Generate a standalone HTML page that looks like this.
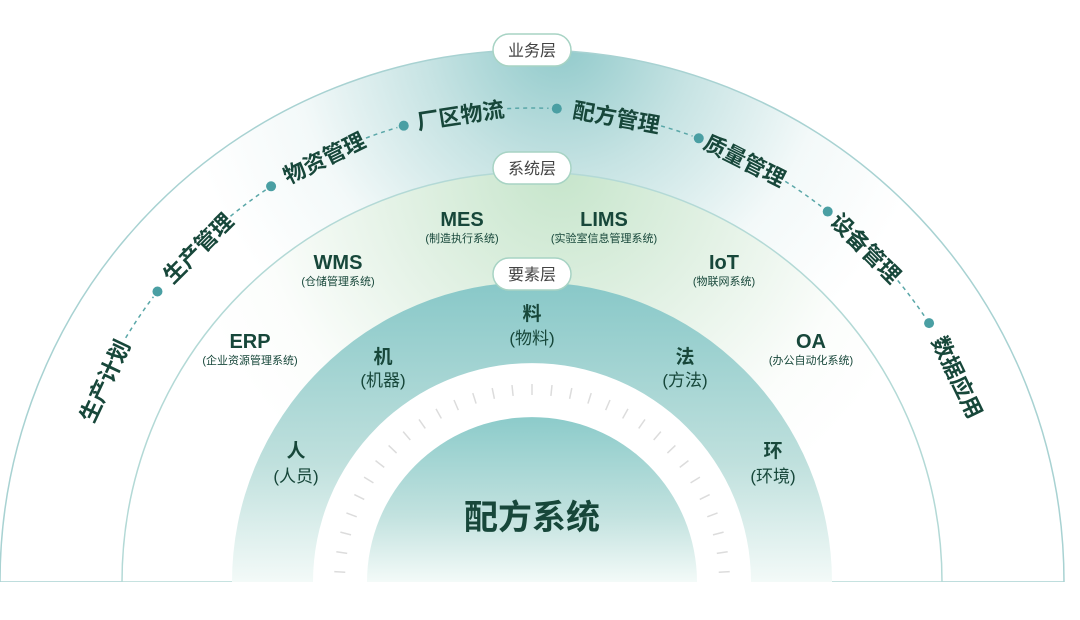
<!DOCTYPE html>
<html><head><meta charset="utf-8"><style>
html,body{margin:0;padding:0;background:#fff;}
svg{display:block;font-family:"Liberation Sans","Noto Sans CJK SC",sans-serif;}
</style></head><body>
<svg width="1080" height="620" viewBox="0 0 1080 620" xmlns="http://www.w3.org/2000/svg">
<defs>
<radialGradient id="gOut" cx="560" cy="40" r="380" gradientUnits="userSpaceOnUse">
<stop offset="0" stop-color="#8fc9ca"/><stop offset="0.35" stop-color="#c6e3e3"/><stop offset="0.7" stop-color="#f3f9f9"/><stop offset="1" stop-color="#ffffff"/></radialGradient>
<radialGradient id="gSys" cx="560" cy="170" r="380" gradientUnits="userSpaceOnUse">
<stop offset="0" stop-color="#c6e5cb"/><stop offset="0.45" stop-color="#e4f2e6"/><stop offset="0.8" stop-color="#fbfdfb"/><stop offset="1" stop-color="#ffffff"/></radialGradient>
<linearGradient id="gEl" x1="0" y1="282" x2="0" y2="582" gradientUnits="userSpaceOnUse">
<stop offset="0" stop-color="#88c8c8"/><stop offset="0.6" stop-color="#bfe0dd"/><stop offset="1" stop-color="#f3faf8"/></linearGradient>
<linearGradient id="gCore" x1="0" y1="417" x2="0" y2="582" gradientUnits="userSpaceOnUse">
<stop offset="0" stop-color="#8ccbca"/><stop offset="0.6" stop-color="#c2e2df"/><stop offset="1" stop-color="#f3faf8"/></linearGradient>
</defs>
<path d="M0,582 A532,532 0 0 1 1064,582 Z" fill="url(#gOut)" stroke="#a8d2d2" stroke-width="1.5"/>
<path d="M122,582 A410,410 0 0 1 942,582 Z" fill="url(#gSys)" stroke="#b3d9d6" stroke-width="1.5"/>
<path d="M232,582 A300,300 0 0 1 832,582 Z" fill="url(#gEl)"/>
<path d="M313,582 A219,219 0 0 1 751,582 Z" fill="#ffffff"/>
<path d="M367,582 A165,165 0 0 1 697,582 Z" fill="url(#gCore)"/>
<rect x="0" y="582" width="1080" height="38" fill="#fff"/>
<g stroke="#dcdcdc" stroke-width="1.5" id="ticks"></g>
<g fill="none" stroke="#5aa7a8" stroke-width="1.5" stroke-dasharray="4 4" id="dash"></g>
<g fill="#4a9fa3" id="dots"></g>
<g font-weight="bold" font-size="22" fill="#17473a" text-anchor="middle" dominant-baseline="middle" id="biz"></g>
<g text-anchor="middle" fill="#17473a">
<text x="462" y="226" font-size="20" font-weight="bold">MES</text><text x="462" y="242" font-size="11">(制造执行系统)</text>
<text x="604" y="226" font-size="20" font-weight="bold">LIMS</text><text x="604" y="242" font-size="11">(实验室信息管理系统)</text>
<text x="338" y="269" font-size="20" font-weight="bold">WMS</text><text x="338" y="285" font-size="11">(仓储管理系统)</text>
<text x="724" y="269" font-size="20" font-weight="bold">IoT</text><text x="724" y="285" font-size="11">(物联网系统)</text>
<text x="250" y="348" font-size="20" font-weight="bold">ERP</text><text x="250" y="364" font-size="11">(企业资源管理系统)</text>
<text x="811" y="348" font-size="20" font-weight="bold">OA</text><text x="811" y="364" font-size="11">(办公自动化系统)</text>
<text x="532" y="320" font-size="19" font-weight="bold">料</text><text x="532" y="344" font-size="17">(物料)</text>
<text x="383" y="363" font-size="19" font-weight="bold">机</text><text x="383" y="386" font-size="17">(机器)</text>
<text x="685" y="363" font-size="19" font-weight="bold">法</text><text x="685" y="386" font-size="17">(方法)</text>
<text x="296" y="457" font-size="19" font-weight="bold">人</text><text x="296" y="482" font-size="17">(人员)</text>
<text x="773" y="457" font-size="19" font-weight="bold">环</text><text x="773" y="482" font-size="17">(环境)</text>
<text x="532" y="529" font-size="34" font-weight="bold">配方系统</text>
</g>
<g font-size="16" fill="#444" text-anchor="middle">
<rect x="493" y="34" width="78" height="32" rx="16" fill="#fff" stroke="#a7d3c4" stroke-width="1.5"/><text x="532" y="56">业务层</text>
<rect x="493" y="152" width="78" height="32" rx="16" fill="#fff" stroke="#a7d3c4" stroke-width="1.5"/><text x="532" y="174">系统层</text>
<rect x="493" y="258" width="78" height="32" rx="16" fill="#fff" stroke="#a7d3c4" stroke-width="1.5"/><text x="532" y="280">要素层</text>
</g>
<script>
var cx=532,cy=582,NS="http://www.w3.org/2000/svg";
function el(t,a,p){var e=document.createElementNS(NS,t);for(var k in a)e.setAttribute(k,a[k]);document.getElementById(p).appendChild(e);return e;}
function pt(r,a){var t=a*Math.PI/180;return [cx+r*Math.sin(t),cy-r*Math.cos(t)];}
for(var a=-87;a<=87;a+=5.8){var p1=pt(187,a),p2=pt(198,a);el("line",{x1:p1[0],y1:p1[1],x2:p2[0],y2:p2[1]},"ticks");}
var R=474;
[[-59,-53],[-39.5,-34],[-20.5,-16.5],[-3,2],[15.8,19.8],[32.3,37.6],[50.5,56]].forEach(function(s){var a=pt(R,s[0]),b=pt(R,s[1]);el("path",{d:"M"+a[0]+","+a[1]+" A"+R+","+R+" 0 0 1 "+b[0]+","+b[1]},"dash");});
[-52.2,-33.4,-15.7,3,20.6,38.6,56.9].forEach(function(a){var p=pt(R,a);el("circle",{cx:p[0],cy:p[1],r:5},"dots");});
[["生产计划",-64.8],["生产管理",-45],["物资管理",-26.1],["厂区物流",-8.7],["配方管理",10.3],["质量管理",26.8],["设备管理",45],["数据应用",64.3]].forEach(function(b){var t=el("text",{x:cx,y:cy-470,transform:"rotate("+b[1]+" "+cx+" "+cy+")"},"biz");t.textContent=b[0];});
</script>
</svg>
</body></html>
